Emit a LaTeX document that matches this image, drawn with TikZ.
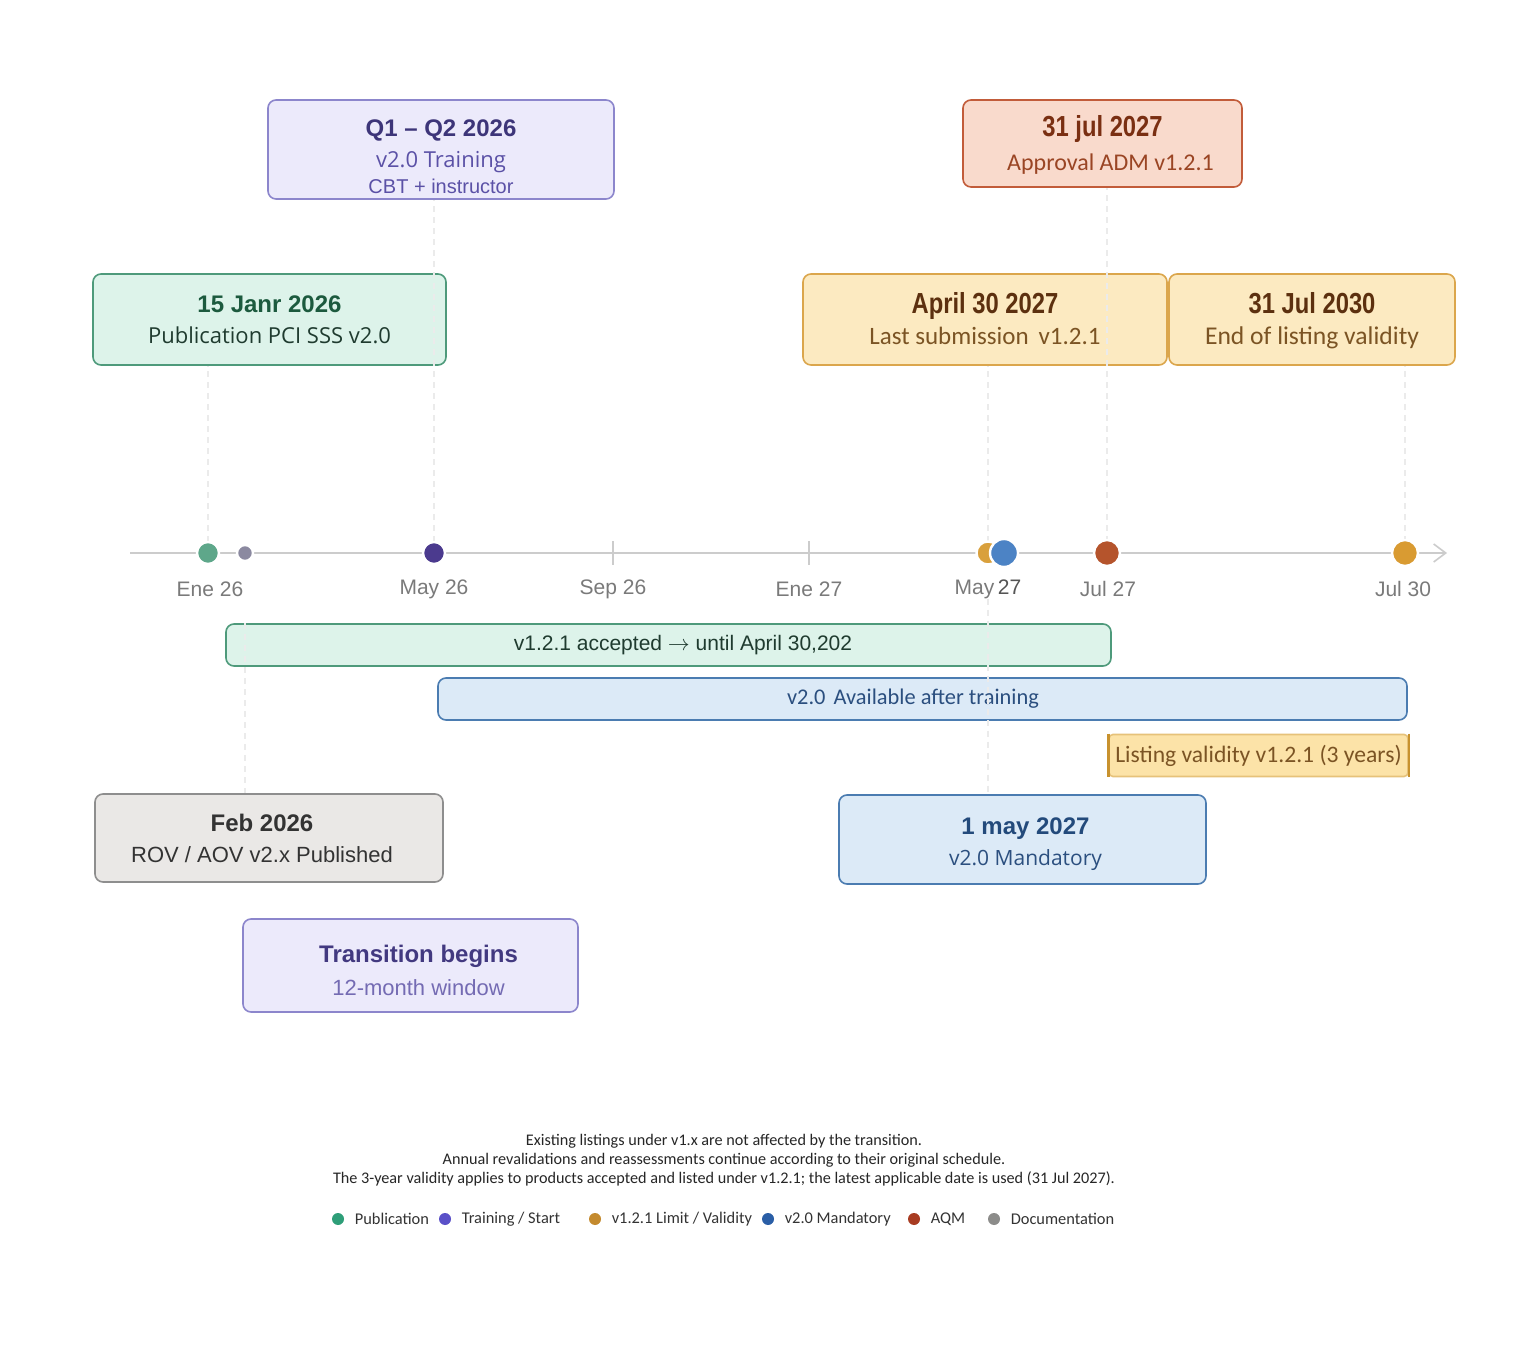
\documentclass[tikz,border=0pt]{standalone}
\usepackage{fontspec}
\setmainfont{Liberation Sans}
\newfontfamily\narrowfont{Liberation Sans}[FakeStretch=0.82]
\newfontfamily\calfont{Carlito}
\newfontfamily\opfont{Open Sans}
\usepackage{tikz}
\usetikzlibrary{positioning,arrows.meta}
\usepackage{xcolor}

\definecolor{pubfill}{HTML}{DDF3EA}
\definecolor{publine}{HTML}{4E9A7B}
\definecolor{pubtitle}{HTML}{1C5A3E}
\definecolor{pubtext}{HTML}{1F3B2F}
\definecolor{lavfill}{HTML}{ECEAFB}
\definecolor{lavline}{HTML}{8C86CC}
\definecolor{lavtitle}{HTML}{3D3579}
\definecolor{lavtext}{HTML}{5B51A6}
\definecolor{admfill}{HTML}{F9DACC}
\definecolor{admline}{HTML}{C25C3A}
\definecolor{admtitle}{HTML}{7A2F12}
\definecolor{admtext}{HTML}{9A4524}
\definecolor{limfill}{HTML}{FCEAC1}
\definecolor{limline}{HTML}{DBA64C}
\definecolor{limtitle}{HTML}{5C300F}
\definecolor{limtext}{HTML}{7B5424}
\definecolor{docfill}{HTML}{EAE8E6}
\definecolor{docline}{HTML}{8E8E8E}
\definecolor{doctext}{HTML}{333333}
\definecolor{manfill}{HTML}{DCEAF7}
\definecolor{manline}{HTML}{4B7CB1}
\definecolor{mantitle}{HTML}{234A7B}
\definecolor{mantext}{HTML}{2B4F7F}
\definecolor{validfill}{HTML}{FCE3A8}
\definecolor{validline}{HTML}{E6C27A}
\definecolor{validedge}{HTML}{C8922E}
\definecolor{axisline}{HTML}{CCCCCC}
\definecolor{axistext}{HTML}{7A7A7A}
\definecolor{axisdark}{HTML}{555555}
\definecolor{dotpub}{HTML}{5EA78A}
\definecolor{dotdoc}{HTML}{8B89A0}
\definecolor{dottrain}{HTML}{4B3A8E}
\definecolor{dotlim}{HTML}{D9A03C}
\definecolor{dotman}{HTML}{4C83C5}
\definecolor{dotadm}{HTML}{B5542C}
\definecolor{dotend}{HTML}{D99B32}
\definecolor{legpub}{HTML}{2E9E78}
\definecolor{legtrain}{HTML}{5A50C8}
\definecolor{leglim}{HTML}{C48A2E}
\definecolor{legman}{HTML}{2A5EA6}
\definecolor{legadm}{HTML}{A83C22}
\definecolor{legdoc}{HTML}{8C8C8A}

\newcommand{\bigtitle}[2]{\textcolor{#1}{\bfseries\fontsize{12}{15.5}\selectfont #2}}
\newcommand{\narrowtitle}[2]{\textcolor{#1}{\narrowfont\bfseries\fontsize{14.5}{15.5}\selectfont #2}}

\tikzset{
  evbox/.style={rectangle, rounded corners=4pt, line width=0.8pt, inner sep=0pt},
  evtext/.style={inner sep=0pt, align=center, font=\fontsize{12}{15.5}\selectfont},
  bar/.style={rectangle, rounded corners=4pt, line width=0.8pt, inner sep=0pt,
    minimum height=21pt},
  dot/.style={circle, inner sep=0pt, minimum size=11pt, draw=white, line width=1.2pt},
  axlab/.style={font=\fontsize{10.5}{12}\selectfont, text=axistext, inner sep=0pt},
  guide/.style={draw=black!8, dash pattern=on 3pt off 2.5pt, line width=0.6pt},
  legdot/.style={circle, inner sep=0pt, minimum size=6pt},
  legtext/.style={font=\calfont\fontsize{8.2}{10}\selectfont, text=black!80, inner sep=0pt},
}

\begin{document}
\begin{tikzpicture}[x=0.5pt, y=0.5pt]
\useasboundingbox[fill=white] (0,0) rectangle (1536,1350);

% boxes above the axis
\node[evbox, fill=lavfill, draw=lavline, minimum width=173pt, minimum height=49.5pt] (train) at (441,1200.5) {};
\node[evtext] (traintxt) at ([yshift=-3.5pt]train.center)
  {\bigtitle{lavtitle}{Q1 – Q2 2026}\\
   \textcolor{lavtext}{\opfont\fontsize{11}{15.5}\selectfont v2.0 Training}\\[-2.5pt]
   \textcolor{lavtext}{\fontsize{10}{15.5}\selectfont CBT + instructor}};
\node[evbox, fill=admfill, draw=admline, minimum width=139.5pt, minimum height=43.5pt] (adm) at (1102.5,1206.5) {};
\node[evtext] (admtxt) at ([yshift=-0.5pt]adm.center)
  {\narrowtitle{admtitle}{31 jul 2027}\\[1.5pt]
   \textcolor{admtext}{\calfont\fontsize{12}{15.5}\selectfont\hspace{8pt}Approval ADM v1.2.1}};
\node[evbox, fill=pubfill, draw=publine, minimum width=176.5pt, minimum height=45.5pt] (pub) at (269.5,1030.5) {};
\node[evtext] (pubtxt) at (pub.center)
  {\bigtitle{pubtitle}{15 Janr 2026}\\
   \textcolor{pubtext}{\opfont\fontsize{11}{15.5}\selectfont Publication PCI SSS v2.0}};
\node[evbox, fill=limfill, draw=limline, minimum width=182pt, minimum height=45.5pt] (last) at (985,1030.5) {};
\node[evtext] (lasttxt) at ([yshift=0.5pt]last.center)
  {\narrowtitle{limtitle}{April 30 2027}\\
   \textcolor{limtext}{\calfont\fontsize{12.5}{15.5}\selectfont Last submission\hspace{5pt}v1.2.1}};
\node[evbox, fill=limfill, draw=limline, minimum width=143pt, minimum height=45.5pt] (endv) at (1312,1030.5) {};
\node[evtext] (endtxt) at ([yshift=-0.5pt]endv.center)
  {\narrowtitle{limtitle}{31 Jul 2030}\\
   \textcolor{limtext}{\calfont\fontsize{12.8}{15.5}\selectfont End of listing validity}};

% bars below the axis
\node[bar, fill=pubfill, draw=publine, minimum width=442.5pt] (accbar) at (668.5,705)
  {\textcolor{pubtext}{\fontsize{10.5}{12}\selectfont\hspace{14.5pt}v1.2.1 accepted $\rightarrow$ until April 30,202}};
\node[bar, fill=manfill, draw=manline, minimum width=484.5pt] (avbar) at (922.5,651)
  {\textcolor{mantext}{\calfont\fontsize{11.2}{12}\selectfont\hspace{-9.5pt}v2.0\hspace{4pt}Available after training}};
\node[bar, rounded corners=2pt, fill=validfill, draw=validline, minimum width=149.5pt] (valbar) at (1258.5,594.5)
  {\textcolor{limtext}{\calfont\fontsize{11.8}{12}\selectfont Listing validity v1.2.1 (3 years)}};
\draw[validedge, line width=1.3pt] (valbar.north west) -- (valbar.south west);
\draw[validedge, line width=1.3pt] (valbar.north east) -- (valbar.south east);

% boxes below
\node[evbox, fill=docfill, draw=docline, minimum width=174pt, minimum height=44pt] (feb) at (269,512) {};
\node[evtext] (febtxt) at ([xshift=-3.5pt]feb.center)
  {\bigtitle{doctext}{Feb 2026}\\
   \textcolor{doctext}{\fontsize{11}{15.5}\selectfont ROV / AOV v2.x Published}};
\node[evbox, fill=manfill, draw=manline, minimum width=183.5pt, minimum height=44.5pt] (mand) at (1022.5,510.5) {};
\node[evtext] (mandtxt) at ([shift={(1.5pt,-2.2pt)}]mand.center)
  {\bigtitle{mantitle}{1 may 2027}\\
   \textcolor{mantext}{\opfont\fontsize{10.5}{15.5}\selectfont v2.0 Mandatory}};
\node[evbox, fill=lavfill, draw=lavline, minimum width=167.5pt, minimum height=46.5pt] (trans) at (410.5,384.5) {};
\node[evtext] (transtxt) at ([shift={(4pt,-2.5pt)}]trans.center)
  {\bigtitle{lavtitle!85!lavtext}{Transition begins}\\[1pt]
   \textcolor{lavtext!85!white}{\fontsize{11}{15.5}\selectfont 12-month window}};

% axis
\coordinate (tpub) at (208,797);
\coordinate (tdoc) at (245,797);
\coordinate (ttrain) at (434,797);
\coordinate (tlim) at (988,797);
\coordinate (tman) at (1004,797);
\coordinate (tadm) at (1107,797);
\coordinate (tend) at (1405,797);

\node[axlab] (lene) at (210,761) {Ene 26};
\node[axlab] (lmay) at (434,761) {May 26};
\node[axlab] (lsep) at (613,761) {Sep 26};
\node[axlab] (lene2) at (809,761) {Ene 27};
\node[axlab] (lmay2) at (988,761) {May\,\textcolor{axisdark}{27}};
\node[axlab] (ljul) at (1108,761) {Jul 27};
\node[axlab] (ljul2) at (1403,761) {Jul 30};

\draw[guide] (tpub) -- (tpub |- pub.south);
\draw[guide] (tdoc |- accbar.north) -- (tdoc |- feb.north);
\draw[guide] (ttrain) -- (ttrain |- train.south);
\draw[guide] (tlim) -- (tlim |- last.south);
\draw[guide] (lmay2.south) -- (lmay2.south |- mand.north);
\draw[guide] (tadm) -- (tadm |- adm.south);
\draw[guide] (tend) -- (tend |- endv.south);

\coordinate (axs) at (130,797);
\coordinate (axe) at (1447,797);
\draw[axisline, line width=0.8pt, -{Straight Barb[length=6pt,width=9pt]}] (axs) -- (axe);
\foreach \tx in {613,809}
  \draw[axisline, line width=0.7pt] (\tx,785) -- (\tx,809);

\node[dot, fill=dotpub] (dpub) at (tpub) {};
\node[dot, fill=dotdoc, minimum size=8pt] (ddoc) at (tdoc) {};
\node[dot, fill=dottrain] (dtrain) at (ttrain) {};
\node[dot, fill=dotlim, minimum size=11.5pt] (dlim) at (tlim) {};
\node[dot, fill=dotman, minimum size=14pt] (dman) at (tman) {};
\node[dot, fill=dotadm, minimum size=13pt] (dadm) at (tadm) {};
\node[dot, fill=dotend, minimum size=13pt] (dend) at (tend) {};

% notes and legend
\node[font=\calfont\fontsize{8.1}{9.5}\selectfont, text=black!85, align=center] (note) at (724,190)
  {Existing listings under v1.x are not affected by the transition.\\
   Annual revalidations and reassessments continue according to their original schedule.\\
   The 3-year validity applies to products accepted and listed under v1.2.1; the latest applicable date is used (31 Jul 2027).};

\node[legdot, fill=legpub] (lg1) at (338,131) {};
\node[legtext, right=5pt of lg1] (lt1) {Publication};
\node[legdot, fill=legtrain] (lg2) at (445,131) {};
\node[legtext, right=5pt of lg2] (lt2) {Training / Start};
\node[legdot, fill=leglim] (lg3) at (595,131) {};
\node[legtext, right=5pt of lg3] (lt3) {v1.2.1 Limit / Validity};
\node[legdot, fill=legman] (lg4) at (768,131) {};
\node[legtext, right=5pt of lg4] (lt4) {v2.0 Mandatory};
\node[legdot, fill=legadm] (lg5) at (914,131) {};
\node[legtext, right=5pt of lg5] (lt5) {AQM};
\node[legdot, fill=legdoc] (lg6) at (994,131) {};
\node[legtext, right=5pt of lg6] (lt6) {Documentation};

\end{tikzpicture}
\end{document}
